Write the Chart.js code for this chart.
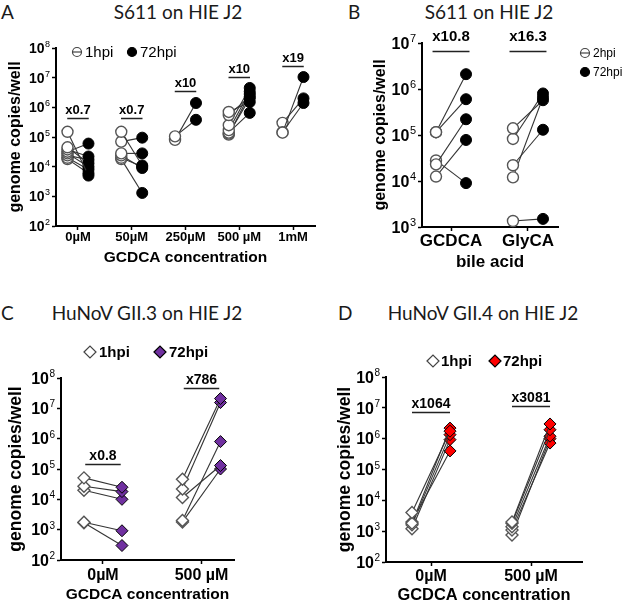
<!DOCTYPE html>
<html>
<head>
<meta charset="utf-8">
<script src="https://cdn.jsdelivr.net/npm/chart.js@4.4.1/dist/chart.umd.min.js"></script>
<style>
  body { margin: 0; background: #fff; width: 625px; height: 605px; position: relative; overflow: hidden; }
  canvas { position: absolute; }
  .hd { position: absolute; font-family: Lato, 'Noto Sans', sans-serif; font-size: 19px; line-height: 20px; color: #1a1a1a; white-space: nowrap; }
  .mid { transform: translateX(-50%); }
</style>
</head>
<body>
<div class="hd" style="left:1px;top:2px">A</div>
<div class="hd mid" style="left:178px;top:2px">S611 on HIE J2</div>
<div class="hd" style="left:348px;top:2px">B</div>
<div class="hd mid" style="left:489px;top:2px">S611 on HIE J2</div>
<div class="hd" style="left:1px;top:303px">C</div>
<div class="hd mid" style="left:147px;top:303px">HuNoV GII.3 on HIE J2</div>
<div class="hd" style="left:338px;top:303px">D</div>
<div class="hd mid" style="left:483px;top:303px">HuNoV GII.4 on HIE J2</div>

<canvas id="chartA" width="330" height="300" style="left:0;top:0"></canvas>
<canvas id="chartB" width="295" height="300" style="left:330px;top:0"></canvas>
<canvas id="chartC" width="315" height="305" style="left:0;top:300px"></canvas>
<canvas id="chartD" width="310" height="305" style="left:315px;top:300px"></canvas>

<script>
// ---- data (genome copies/well, one entry per well; 1hpi[k] pairs with 72hpi[k]) ----
const catsA = ['0µM', '50µM', '250µM', '500 µM', '1mM'];
const earlyA = [
  [1.5e5, 4.5e4, 3.8e4, 3.2e4, 2.8e4, 2.4e4, 2.0e4, 1.8e4],
  [1.5e5, 7.0e4, 2.8e4, 2.4e4, 2.0e4, 1.8e4],
  [1.05e5, 8.0e4],
  [7.0e5, 5.5e5, 2.5e5, 1.7e5, 1.4e5, 1.3e5, 1.2e5],
  [1.4e5, 1.45e5, 3.0e5]
];
const lateA = [
  [5.0e3, 1.3e4, 2.2e4, 6.0e4, 1.0e4, 1.7e4, 8.0e3, 6.0e3],
  [1.1e4, 9.5e4, 2.8e4, 9.0e3, 1.0e4, 1.3e3],
  [3.8e5, 1.4e6],
  [1.5e6, 2.3e6, 4.5e6, 3.4e6, 6.5e5, 2.0e6, 2.8e6],
  [1.05e7, 1.4e6, 2.0e6]
];
const foldA = ['x0.7', 'x0.7', 'x10', 'x10', 'x19'];

const catsB = ['GCDCA', 'GlyCA'];
const earlyB = [
  [1.15e5, 1.15e5, 2.3e4, 1.25e4, 2.8e4],
  [1.4e5, 8.2e4, 2.2e4, 1.2e4, 1.35e3]
];
const lateB = [
  [2.1e6, 6.0e5, 2.2e5, 7.8e4, 9.0e3],
  [5.7e5, 8.0e5, 1.3e5, 6.6e5, 1.5e3]
];
const foldB = ['x10.8', 'x16.3'];

const catsCD = ['0µM', '500 µM'];
const earlyC = [
  [5.1e4, 2.7e4, 2.0e4, 1.75e3, 1.7e3],
  [4.6e4, 2.2e4, 1.15e4, 2.0e3, 1.8e3]
];
const lateC = [
  [2.5e4, 1.8e4, 1.0e4, 9.2e2, 3.0e2],
  [2.1e7, 1.55e7, 1.3e5, 8.0e5, 1.0e5]
];
const foldC = ['x0.8', 'x786'];

const earlyD = [
  [4.0e3, 1.8e3, 1.6e3, 1.2e3, 2.0e3],
  [2.0e3, 1.8e3, 1.4e3, 1.1e3, 7.5e2]
];
const lateD = [
  [1.75e6, 2.2e6, 1.35e6, 9.3e5, 4.0e5],
  [3.0e6, 1.95e6, 1.2e6, 7.2e5, 1.0e6]
];
const foldD = ['x1064', 'x3081'];

// y tick labels are 10 to these powers
const pow2to8 = ['2', '3', '4', '5', '6', '7', '8'];
const pow3to7 = ['3', '4', '5', '6', '7'];
const timesA = ['1hpi', '72hpi'];
const timesB = ['2hpi', '72hpi'];

// ---- drawing ----
const ARIAL = "'Liberation Sans', Arial, sans-serif";
const f = (size, weight) => ({ family: ARIAL, size, weight: weight || 'bold' });

// fold-change bars, "10^n" tick labels and the little legends
function extras(cfg) {
  return {
    id: 'extras',
    afterDraw(chart) {
      const { ctx } = chart;
      const x = chart.scales.x, y = chart.scales.y;
      ctx.save();

      // y tick labels with a real superscript
      ctx.fillStyle = '#000';
      ctx.textAlign = 'right';
      ctx.textBaseline = 'alphabetic';
      y.ticks.forEach((t, k) => {
        const py = y.getPixelForValue(t.value);
        const right = y.right - 6;
        ctx.font = cfg.powFont;
        const pw = ctx.measureText(cfg.pows[k]).width;
        ctx.fillText(cfg.pows[k], right, py - 1);
        ctx.font = cfg.baseFont;
        ctx.fillText('10', right - pw - 0.5, py + cfg.baseSize * 0.36);
      });

      ctx.font = cfg.noteFont;
      ctx.textAlign = 'center';
      cfg.notes.forEach((t, i) => {
        const yy = Math.round(y.getPixelForValue(cfg.noteAt[i])) + 0.5;
        const x0 = x.getPixelForValue(i - cfg.noteHalf), x1 = x.getPixelForValue(i + cfg.noteHalf);
        ctx.strokeStyle = '#222';
        ctx.lineWidth = 1.5;
        ctx.beginPath(); ctx.moveTo(x0, yy); ctx.lineTo(x1, yy); ctx.stroke();
        ctx.fillStyle = '#000';
        ctx.fillText(t, (x0 + x1) / 2, yy - cfg.noteGap);
      });

      const L = cfg.legend;
      ctx.font = L.font;
      ctx.textAlign = 'left';
      ctx.textBaseline = 'middle';
      L.items.forEach((it, k) => {
        ctx.fillStyle = k ? cfg.fill : '#fff';
        ctx.strokeStyle = k ? '#000' : '#444';
        ctx.lineWidth = 1.2;
        Chart.helpers.drawPoint(ctx, { pointStyle: cfg.shape, radius: L.r, borderWidth: 1.2, rotation: 0 }, it.x, it.y);
        if (!k && cfg.shape === 'circle') {
          ctx.beginPath(); ctx.moveTo(it.x - L.r, it.y); ctx.lineTo(it.x + L.r, it.y); ctx.stroke();
        }
        ctx.fillStyle = '#000';
        ctx.fillText(L.labels[k], it.x + L.gap, it.y + 1);
      });
      ctx.restore();
    }
  };
}

function makeChart(id, cfg) {
  const datasets = [];
  cfg.early.forEach((vals, i) => vals.forEach((v, k) => {
    datasets.push({
      data: [{ x: i - cfg.shift, y: v }, { x: i + cfg.shift, y: cfg.late[i][k] }],
      showLine: true,
      borderColor: '#333',
      borderWidth: 1.1,
      pointStyle: cfg.shape,
      pointRadius: cfg.r,
      pointHoverRadius: cfg.r,
      pointBackgroundColor: ['#fff', cfg.fill],
      pointBorderColor: ['#555', '#000'],
      pointBorderWidth: [1.4, 1],
      clip: false
    });
  }));

  const yFirst = cfg.yMin;
  new Chart(document.getElementById(id), {
    type: 'scatter',
    data: { datasets },
    options: {
      responsive: false,
      animation: false,
      events: [],
      layout: { padding: cfg.pad },
      plugins: { legend: { display: false }, tooltip: { enabled: false } },
      scales: {
        x: {
          type: 'linear',
          min: cfg.xMin,
          max: cfg.xMax,
          afterBuildTicks: s => { s.ticks = cfg.cats.map((c, i) => ({ value: i })); },
          afterFit: s => { s.height = cfg.xH; },
          ticks: { callback: v => cfg.cats[v], font: cfg.xTickFont, color: '#000', padding: cfg.xTickPad, maxRotation: 0, autoSkip: false },
          grid: { display: true, drawOnChartArea: false, drawTicks: true, tickLength: 4, tickWidth: 1.5, tickColor: '#000' },
          border: { display: true, color: '#000', width: 2 },
          title: { display: true, text: cfg.xTitle, font: cfg.xTitleFont, color: '#000', padding: { top: 0, bottom: cfg.xTitlePad } }
        },
        y: {
          type: 'logarithmic',
          min: cfg.yMin,
          max: cfg.yMax,
          afterBuildTicks: s => { s.ticks = cfg.pows.map((p, k) => ({ value: yFirst * Math.pow(10, k) })); },
          afterFit: s => { s.width = cfg.yW; },
          ticks: { display: false },
          grid: { display: true, drawOnChartArea: false, drawTicks: true, tickLength: 4, tickWidth: 1.5, tickColor: '#000' },
          border: { display: true, color: '#000', width: 2 },
          title: { display: true, text: 'genome copies/well', font: cfg.yTitleFont, color: '#000', padding: { top: cfg.yTitlePad, bottom: 0 } }
        }
      }
    },
    plugins: [extras(cfg)]
  });
}

makeChart('chartA', {
  cats: catsA, early: earlyA, late: lateA, notes: foldA,
  noteAt: [4.4e5, 4.4e5, 3.5e6, 1.05e7, 2.45e7], noteHalf: 0.2, noteGap: 5, noteFont: 'bold 13px ' + ARIAL,
  shape: 'circle', r: 5.5, fill: '#000', shift: 0.195,
  xMin: -0.409, xMax: 4.409, yMin: 1e2, yMax: 1e8, pows: pow2to8,
  baseFont: 'bold 14px ' + ARIAL, baseSize: 14, powFont: '9px ' + ARIAL,
  pad: { left: 0, top: 48, right: 15, bottom: 30 }, xH: 44, yW: 56,
  xTickFont: f(13), xTickPad: 0, xTitle: 'GCDCA concentration', xTitleFont: f(15.5), xTitlePad: 3,
  yTitleFont: f(16), yTitlePad: 6,
  legend: { font: '15px ' + ARIAL, gap: 8, r: 4.5, labels: timesA, items: [{ x: 77, y: 52 }, { x: 132, y: 52 }] }
});

makeChart('chartB', {
  cats: catsB, early: earlyB, late: lateB, notes: foldB,
  noteAt: [6.8e6, 6.8e6], noteHalf: 0.24, noteGap: 11, noteFont: 'bold 15px ' + ARIAL,
  shape: 'circle', r: 5.5, fill: '#000', shift: 0.195,
  xMin: -0.377, xMax: 1.39, yMin: 1e3, yMax: 1e7, pows: pow3to7,
  baseFont: 'bold 16px ' + ARIAL, baseSize: 16, powFont: '11px ' + ARIAL,
  pad: { left: 36, top: 43, right: 67, bottom: 25 }, xH: 48, yW: 56,
  xTickFont: f(17), xTickPad: 0, xTitle: 'bile acid', xTitleFont: f(17), xTitlePad: 2,
  yTitleFont: f(16), yTitlePad: 5.4,
  legend: { font: '12px ' + ARIAL, gap: 8, r: 4.5, labels: timesB, items: [{ x: 255, y: 53 }, { x: 255, y: 72 }] }
});

makeChart('chartC', {
  cats: catsCD, early: earlyC, late: lateC, notes: foldC,
  noteAt: [1.5e5, 4.6e7], noteHalf: 0.18, noteGap: 5, noteFont: 'bold 14px ' + ARIAL,
  shape: 'rectRot', r: 6, fill: '#7030A0', shift: 0.193,
  xMin: -0.426, xMax: 1.33, yMin: 1e2, yMax: 1e8, pows: pow2to8,
  baseFont: 'bold 16px ' + ARIAL, baseSize: 16, powFont: '10px ' + ARIAL,
  pad: { left: 0, top: 78, right: 81, bottom: 0 }, xH: 45, yW: 61,
  xTickFont: f(16), xTickPad: 2, xTitle: 'GCDCA concentration', xTitleFont: f(15.5), xTitlePad: 1,
  yTitleFont: f(17.5), yTitlePad: 5.5,
  legend: { font: 'bold 15px ' + ARIAL, gap: 9, r: 6, labels: timesA, items: [{ x: 90, y: 52 }, { x: 160, y: 52 }] }
});

makeChart('chartD', {
  cats: catsCD, early: earlyD, late: lateD, notes: foldD,
  noteAt: [7.6e6, 1.15e7], noteHalf: 0.19, noteGap: 5, noteFont: 'bold 14px ' + ARIAL,
  shape: 'rectRot', r: 6, fill: '#FF0000', shift: 0.19,
  xMin: -0.45, xMax: 1.51, yMin: 1e2, yMax: 1e8, pows: pow2to8,
  baseFont: 'bold 16px ' + ARIAL, baseSize: 16, powFont: '10px ' + ARIAL,
  pad: { left: 14, top: 77, right: 43, bottom: 0 }, xH: 43, yW: 57,
  xTickFont: f(16), xTickPad: 1, xTitle: 'GCDCA concentration', xTitleFont: f(16.4), xTitlePad: 0,
  yTitleFont: f(17.5), yTitlePad: 5.5,
  legend: { font: 'bold 15px ' + ARIAL, gap: 8, r: 6, labels: timesA, items: [{ x: 118, y: 61 }, { x: 180, y: 61 }] }
});
</script>
</body>
</html>
